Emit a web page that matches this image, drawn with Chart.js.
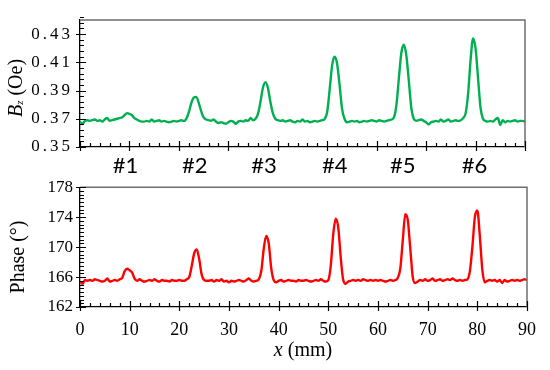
<!DOCTYPE html>
<html>
<head>
<meta charset="utf-8">
<script src="https://cdn.jsdelivr.net/npm/chart.js@4.4.1/dist/chart.umd.min.js"></script>
<style>
html,body{margin:0;padding:0;background:#fff;}
#wrap{position:relative;width:550px;height:370px;overflow:hidden;background:#fff;}
canvas{position:absolute;left:0;}
.pre{position:absolute;left:-1000px;top:0;}
</style>
</head>
<body>
<div id="wrap">
<canvas id="c1" width="550" height="180" style="top:0;width:550px;height:180px"></canvas>
<canvas id="c2" width="550" height="200" style="top:170px;width:550px;height:200px"></canvas>
</div>
<span class="pre" style="font-family:'Liberation Serif'">0123 Phase <i>x</i></span>
<span class="pre" style="font-family:'Lato'">#123</span>
<script>
// ---------- DATA ----------
// sampling grid: x position (mm), every 0.5 mm from 0 to 90
const xPositions = Array.from({length: 181}, (_, i) => i * 0.5);

// Bz (Oe)
const bzValues = [
  0.368,0.3665,0.3685,0.369,0.3685,0.369,0.3695,0.3685,0.369,0.368,
  0.3695,0.3705,0.3685,0.369,0.3695,0.370,0.3705,0.371,0.3725,0.374,
  0.3735,0.3725,0.3705,0.3695,0.3685,0.368,0.368,0.3685,0.368,0.3695,
  0.368,0.3685,0.369,0.368,0.3685,0.368,0.3675,0.368,0.3685,0.368,
  0.3685,0.369,0.3685,0.370,0.3745,0.381,0.385,0.3855,0.3815,0.3755,
  0.371,0.3695,0.369,0.3685,0.3695,0.368,0.367,0.3675,0.367,0.3665,
  0.3675,0.3685,0.368,0.3665,0.368,0.3685,0.368,0.369,0.3685,0.3705,
  0.369,0.370,0.3735,0.382,0.392,0.396,0.392,0.382,0.374,0.370,
  0.369,0.3685,0.369,0.368,0.3685,0.369,0.368,0.3675,0.3685,0.368,
  0.3695,0.368,0.3685,0.3675,0.368,0.3685,0.368,0.3685,0.369,0.370,
  0.375,0.391,0.408,0.414,0.409,0.394,0.377,0.370,0.3675,0.368,
  0.3685,0.368,0.3685,0.3675,0.368,0.3685,0.368,0.3685,0.369,0.3685,
  0.368,0.369,0.3685,0.368,0.3685,0.369,0.3695,0.371,0.380,0.399,
  0.417,0.4225,0.415,0.397,0.378,0.370,0.3685,0.369,0.3695,0.3685,
  0.3675,0.366,0.3675,0.368,0.3685,0.368,0.3695,0.368,0.3685,0.3695,
  0.368,0.3685,0.369,0.3685,0.369,0.3705,0.374,0.388,0.412,0.427,
  0.420,0.399,0.378,0.370,0.3685,0.368,0.3685,0.368,0.3695,0.3705,
  0.3655,0.369,0.3675,0.3685,0.368,0.3685,0.369,0.368,0.3685,0.3685,
  0.368
];

// Phase (degrees)
const phaseValues = [
  165.4,165.1,165.6,165.5,165.6,165.5,165.7,165.6,165.5,165.4,
  165.5,165.8,165.4,165.5,165.6,165.5,165.7,165.9,166.8,167.1,
  166.9,166.6,165.8,165.5,165.7,165.5,165.4,165.5,165.6,165.5,
  165.7,165.5,165.4,165.6,165.5,165.5,165.4,165.6,165.5,165.5,
  165.6,165.5,165.5,165.7,166.0,167.5,169.2,169.7,168.4,166.3,
  165.6,165.5,165.5,165.6,165.4,165.6,165.5,165.7,165.4,165.5,
  165.3,165.5,165.4,165.5,165.6,165.5,165.4,165.6,165.8,165.5,
  165.4,165.5,165.7,166.8,169.8,171.5,170.5,167.2,165.6,165.3,
  165.5,165.6,165.4,165.5,165.6,165.5,165.5,165.4,165.6,165.5,
  165.5,165.6,165.5,165.4,165.5,165.6,165.5,165.7,165.5,165.4,
  165.6,167.6,171.8,173.8,172.6,168.6,165.6,165.1,165.4,165.5,
  165.6,165.5,165.6,165.5,165.7,165.6,165.5,165.6,165.5,165.6,
  165.5,165.6,165.5,165.4,165.5,165.6,165.5,165.6,165.9,167.2,
  171.0,174.4,173.6,169.8,166.0,165.2,165.4,165.6,165.5,165.7,
  165.5,165.6,165.8,165.5,165.6,165.7,165.5,165.6,165.7,165.6,
  165.8,165.6,165.5,165.6,165.5,165.6,165.7,166.8,170.0,174.0,
  174.9,171.5,167.0,165.3,165.5,165.6,165.5,165.6,165.4,165.6,
  165.2,165.6,165.4,165.5,165.6,165.5,165.6,165.5,165.6,165.7,
  165.6
];

// Sample labels and their x positions (mm)
const sampleLabels = ['#1','#2','#3','#4','#5','#6'];
const samplePositions = [9.2, 23.2, 37.2, 51.5, 65.3, 79.8];

// Tick labels
const xTicks = [0,10,20,30,40,50,60,70,80,90];
const bzTicks = [0.35,0.37,0.39,0.41,0.43];
const phaseTicks = [162,166,170,174,178];

// ---------- STYLE ----------
const SERIF = '"Liberation Serif", "Times New Roman", Tinos, serif';
const SANS = 'Lato, "Open Sans", "Liberation Sans", sans-serif';

const tickMarks = {
  id: 'tickMarks',
  afterDraw(chart, args, o) {
    const {ctx, chartArea: a, scales} = chart;
    const xs = scales.x, ys = scales.y;
    ctx.save();
    ctx.letterSpacing = '0px';
    ctx.strokeStyle = '#6e6e6e';
    ctx.lineWidth = 1.5;
    ctx.beginPath();
    ctx.moveTo(a.left, a.top);
    ctx.lineTo(a.right, a.top);
    ctx.lineTo(a.right, a.bottom);
    ctx.stroke();
    ctx.strokeStyle = '#000';
    ctx.lineWidth = 1.2;
    ctx.beginPath();
    const nx = Math.round((o.xMax - o.xMin) / o.xMinor);
    for (let i = 0; i <= nx; i++) {
      const v = o.xMin + i * o.xMinor;
      const major = Math.abs(v / o.xMajor - Math.round(v / o.xMajor)) < 1e-6;
      const px = Math.round(xs.getPixelForValue(v)) + 0.5;
      ctx.moveTo(px, a.bottom + (major ? 4 : 0));
      ctx.lineTo(px, a.bottom - (major ? 6 : 4));
    }
    const ny = Math.round((o.yMax - o.yMin) / o.yMinor);
    for (let i = 0; i <= ny; i++) {
      const v = o.yMin + i * o.yMinor;
      const r = (v - o.yBase) / o.yMajor;
      const major = Math.abs(r - Math.round(r)) < 1e-6;
      const py = Math.round(ys.getPixelForValue(v)) + 0.5;
      ctx.moveTo(a.left - (major ? 4 : 0), py);
      ctx.lineTo(a.left + (major ? 6 : 4), py);
    }
    ctx.stroke();
    ctx.restore();
  }
};

function drawRich(ctx, pieces, cx, cy, rotate) {
  ctx.save();
  ctx.letterSpacing = '0px';
  ctx.translate(cx, cy);
  if (rotate) ctx.rotate(-Math.PI / 2);
  ctx.textBaseline = 'alphabetic';
  ctx.textAlign = 'left';
  let w = 0;
  pieces.forEach(p => { ctx.font = p.font; w += ctx.measureText(p.text).width; });
  let x = -w / 2;
  pieces.forEach(p => {
    ctx.font = p.font;
    ctx.fillStyle = '#000';
    ctx.fillText(p.text, x, p.dy || 0);
    x += ctx.measureText(p.text).width;
  });
  ctx.restore();
}

const topDecor = {
  id: 'topDecor',
  beforeDraw(chart) { chart.ctx.letterSpacing = '3px'; },
  afterDraw(chart) {
    const ctx = chart.ctx;
    ctx.letterSpacing = '0px';
    drawRich(ctx, [
      {text: 'B', font: 'italic 20px ' + SERIF},
      {text: 'z', font: 'italic 11px ' + SERIF, dy: 1},
      {text: ' (Oe)', font: '20px ' + SERIF}
    ], 22, 88, true);
    ctx.save();
    ctx.font = '22px ' + SANS;
    ctx.fillStyle = '#000';
    ctx.textAlign = 'center';
    ctx.textBaseline = 'alphabetic';
    const xs = chart.scales.x;
    sampleLabels.forEach((t, i) => ctx.fillText(t, xs.getPixelForValue(samplePositions[i]), 173));
    ctx.restore();
  }
};

const bottomDecor = {
  id: 'bottomDecor',
  afterDraw(chart) {
    const ctx = chart.ctx;
    drawRich(ctx, [{text: 'Phase (°)', font: '20px ' + SERIF}], 24, 87, true);
    drawRich(ctx, [
      {text: 'x', font: 'italic 20px ' + SERIF},
      {text: ' (mm)', font: '20px ' + SERIF}
    ], 303, 186, false);
  }
};

function pts(vals) { return vals.map((v, i) => ({x: xPositions[i], y: v})); }

function build() {
  Chart.defaults.font.family = SERIF;
  Chart.defaults.color = '#000';

  new Chart(document.getElementById('c1'), {
    type: 'line',
    data: { datasets: [{
      data: pts(bzValues),
      borderColor: '#00b050',
      borderWidth: 2.4,
      pointRadius: 0,
      cubicInterpolationMode: 'monotone',
      fill: false
    }]},
    options: {
      responsive: false, animation: false, devicePixelRatio: 1,
      layout: {padding: {left: 0, right: 25, top: 20, bottom: 0}},
      plugins: {legend: {display: false}, tooltip: {enabled: false}, tickMarks: {
        xMin: 0, xMax: 90, xMinor: 2, xMajor: 10,
        yMin: 0.35, yMax: 0.44, yMinor: 0.004, yMajor: 0.02, yBase: 0.35
      }},
      scales: {
        x: {
          type: 'linear', min: 0, max: 90,
          afterBuildTicks: s => { s.ticks = xTicks.map(v => ({value: v})); },
          afterFit: s => { s.height = 33; },
          ticks: {display: false},
          grid: {display: false, drawTicks: false},
          border: {display: true, color: '#000', width: 1.3}
        },
        y: {
          min: 0.35, max: 0.44,
          afterBuildTicks: s => { s.ticks = bzTicks.map(v => ({value: v})); },
          afterFit: s => { s.width = 80; },
          ticks: {padding: 7, font: {family: SERIF, size: 17}, color: '#000', callback: v => v.toFixed(2)},
          grid: {display: false, drawTicks: false},
          border: {display: true, color: '#000', width: 1.3}
        }
      }
    },
    plugins: [tickMarks, topDecor]
  });

  new Chart(document.getElementById('c2'), {
    type: 'line',
    data: { datasets: [{
      data: pts(phaseValues),
      borderColor: '#ff0000',
      borderWidth: 2.4,
      pointRadius: 0,
      cubicInterpolationMode: 'monotone',
      fill: false
    }]},
    options: {
      responsive: false, animation: false, devicePixelRatio: 1,
      layout: {padding: {left: 0, right: 23, top: 8, bottom: 0}},
      plugins: {legend: {display: false}, tooltip: {enabled: false}, tickMarks: {
        xMin: 0, xMax: 90, xMinor: 2, xMajor: 10,
        yMin: 162, yMax: 178, yMinor: 0.5, yMajor: 4, yBase: 162
      }},
      scales: {
        x: {
          type: 'linear', min: 0, max: 90,
          afterBuildTicks: s => { s.ticks = xTicks.map(v => ({value: v})); },
          afterFit: s => { s.height = 63; },
          ticks: {padding: 12, font: {family: SERIF, size: 18}, color: '#000', maxRotation: 0, autoSkip: false},
          grid: {display: false, drawTicks: false},
          border: {display: true, color: '#000', width: 1.3}
        },
        y: {
          min: 162, max: 178,
          afterBuildTicks: s => { s.ticks = phaseTicks.map(v => ({value: v})); },
          afterFit: s => { s.width = 80; },
          ticks: {padding: 7, font: {family: SERIF, size: 17}, color: '#000'},
          grid: {display: false, drawTicks: false},
          border: {display: true, color: '#000', width: 1.3}
        }
      }
    },
    plugins: [tickMarks, bottomDecor]
  });
}

const loads = [
  '17px "Liberation Serif"', 'italic 20px "Liberation Serif"', '22px Lato'
].map(f => document.fonts.load(f).catch(() => null));
Promise.all(loads).then(build, build);
</script>
</body>
</html>
